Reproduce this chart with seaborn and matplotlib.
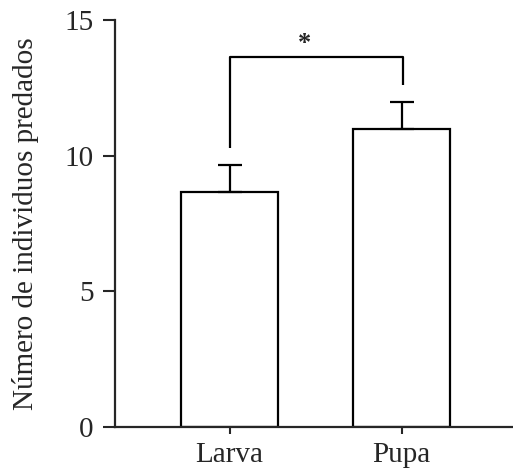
import matplotlib
matplotlib.use("Agg")
import matplotlib.pyplot as plt
import pandas as pd
import seaborn as sns

# Data
categories = ["Larva", "Pupa"]
means = [8.67, 11.0]
errors = [0.98, 0.96]
y_ticks = [0, 5, 10, 15]
# significance bracket: left leg bottom, top, right leg bottom
bracket_y = [10.3, 13.65, 12.6]
sig_label = "*"

sns.set_style("ticks")
plt.rcParams["font.family"] = ["Liberation Serif", "DejaVu Serif"]

df = pd.DataFrame({"stage": categories, "value": means})

fig = plt.figure(figsize=(5.13, 4.73), dpi=100)
ax = fig.add_axes([0.2242, 0.0973, 0.7758, 0.8604])

sns.barplot(data=df, x="stage", y="value", ax=ax, color="white",
            edgecolor="black", linewidth=1.6, width=0.564, errorbar=None)
ax.errorbar(range(len(categories)), means,
            yerr=[[0] * len(errors), errors], fmt="none",
            ecolor="black", elinewidth=1.6, capsize=8.5, capthick=1.6)

# significance bracket
ax.plot([0, 0, 1.01, 1.01],
        [bracket_y[0], bracket_y[1], bracket_y[1], bracket_y[2]],
        color="black", lw=1.6, solid_capstyle="butt")
ax.text(0.435, 13.7, sig_label, ha="center", va="bottom", fontsize=19,
        fontweight="bold")

ax.set_xlim(-0.666, 1.648)
ax.set_ylim(0, 15)
ax.set_yticks(y_ticks)
ax.set_xlabel("")
ax.set_ylabel("Número de individuos predados", fontsize=21, labelpad=18)
ax.tick_params(axis="y", length=8.5, width=1.5, labelsize=21, pad=7)
ax.tick_params(axis="x", length=5, width=1.5, labelsize=21, pad=6)
for s in ["left", "bottom"]:
    ax.spines[s].set_linewidth(1.6)
sns.despine(ax=ax)

fig.savefig("out.png", dpi=100)
